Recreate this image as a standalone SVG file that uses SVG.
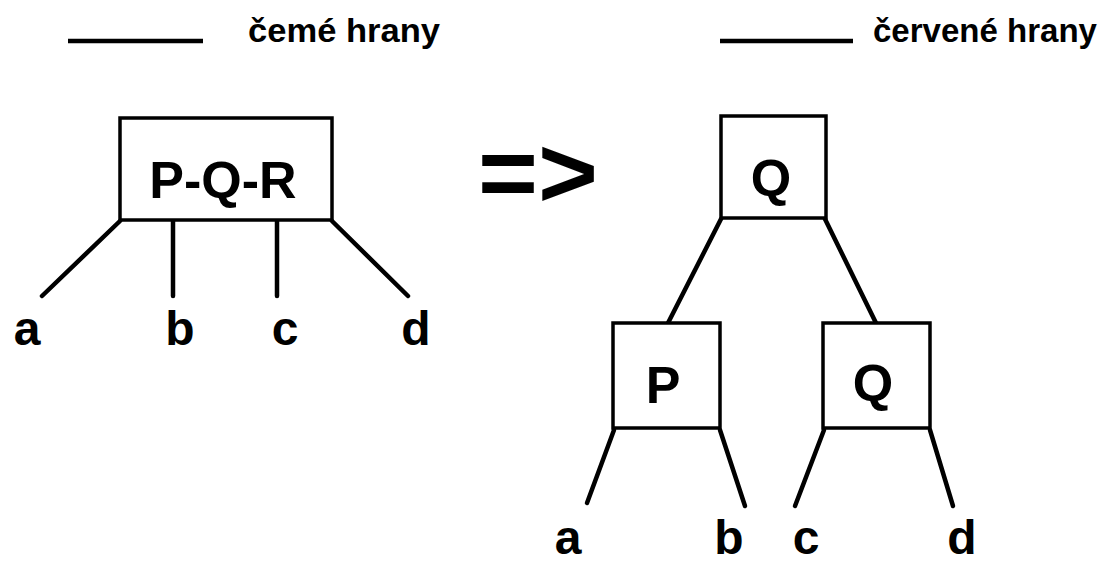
<svg xmlns="http://www.w3.org/2000/svg" width="1103" height="563" viewBox="0 0 1103 563">
  <style>
    .box { fill: #fff; stroke: #000; stroke-width: 3.5; }
    .edge { stroke: #000; stroke-width: 4.5; stroke-linecap: round; fill: none; }
    .key { stroke: #000; stroke-width: 4.5; }
    .lbl { font-family: "Liberation Sans", Arial, sans-serif; font-weight: bold; fill: #000; }
    .name { font-size: 52px; text-anchor: middle; }
    .leaf { font-size: 48px; text-anchor: middle; }
    .legend { font-size: 33px; }
  </style>
  <rect width="1103" height="563" fill="#fff"/>

  <!-- legend -->
  <g id="legend">
    <line class="key" x1="68" y1="41" x2="203" y2="41"/>
    <text class="lbl legend" x="248" y="42" textLength="192" lengthAdjust="spacingAndGlyphs">čemé hrany</text>
    <line class="key" x1="720" y1="41" x2="853" y2="41"/>
    <text class="lbl legend" x="873" y="42" textLength="224" lengthAdjust="spacingAndGlyphs">červené hrany</text>
  </g>

  <!-- connectors -->
  <g id="connectors">
    <!-- node with three keys -->
    <line class="edge" x1="120" y1="221" x2="42" y2="296"/>
    <line class="edge" x1="173" y1="221" x2="173" y2="296"/>
    <line class="edge" x1="277" y1="221" x2="277" y2="296"/>
    <line class="edge" x1="332" y1="221" x2="408" y2="296"/>
    <!-- binary equivalent -->
    <line class="edge" x1="721" y1="219" x2="668" y2="323"/>
    <line class="edge" x1="825" y1="219" x2="876" y2="323"/>
    <line class="edge" x1="614" y1="430" x2="587" y2="503"/>
    <line class="edge" x1="720" y1="430" x2="745" y2="506"/>
    <line class="edge" x1="824" y1="430" x2="795" y2="506"/>
    <line class="edge" x1="930" y1="430" x2="953" y2="506"/>
  </g>

  <!-- left: node with three keys -->
  <g id="node-pqr">
    <rect class="box" x="120" y="118" width="212" height="102"/>
    <text class="lbl name" x="223" y="198">P-Q-R</text>
  </g>
  <g id="leaves-left">
    <text class="lbl leaf" x="27" y="345">a</text>
    <text class="lbl leaf" x="180" y="345">b</text>
    <text class="lbl leaf" x="285" y="345">c</text>
    <text class="lbl leaf" x="416" y="345">d</text>
  </g>

  <!-- transformation arrow -->
  <g id="arrow">
    <text class="lbl" x="478" y="207" font-size="100" textLength="120" lengthAdjust="spacingAndGlyphs">=&gt;</text>
  </g>

  <!-- right: binary tree -->
  <g id="node-q-root">
    <rect class="box" x="721" y="116" width="105" height="102"/>
    <text class="lbl name" x="771" y="196">Q</text>
  </g>
  <g id="node-p">
    <rect class="box" x="613" y="323" width="107" height="105"/>
    <text class="lbl name" x="663" y="403">P</text>
  </g>
  <g id="node-q">
    <rect class="box" x="823" y="323" width="107" height="105"/>
    <text class="lbl name" x="873" y="401">Q</text>
  </g>
  <g id="leaves-right">
    <text class="lbl leaf" x="568" y="554">a</text>
    <text class="lbl leaf" x="729" y="554">b</text>
    <text class="lbl leaf" x="806" y="554">c</text>
    <text class="lbl leaf" x="962" y="554">d</text>
  </g>
</svg>
